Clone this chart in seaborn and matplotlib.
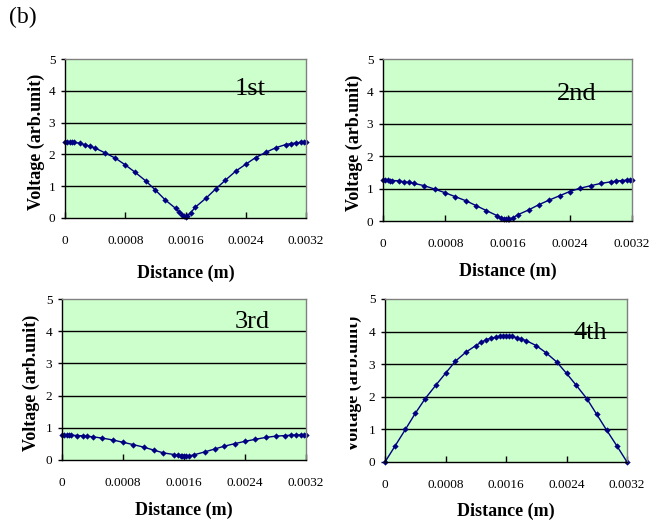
import matplotlib
matplotlib.use("Agg")
import matplotlib.pyplot as plt
import seaborn as sns
from matplotlib.transforms import Bbox, TransformedBbox

# distance samples (m) shared by the 1st-3rd harmonics
dist_13 = [0, 0.00003, 0.00006, 0.00009, 0.00012, 0.0002, 0.00027, 0.00033, 0.0004,
           0.00053, 0.00067, 0.0008, 0.00093, 0.00107, 0.0012, 0.00133, 0.00147,
           0.00152, 0.00156, 0.00158, 0.0016, 0.00162, 0.00167, 0.00173, 0.00187,
           0.002, 0.00213, 0.00227, 0.0024, 0.00253, 0.00267, 0.0028, 0.00293,
           0.003, 0.00307, 0.00313, 0.00317, 0.0032]
volt_1st = [2.40, 2.40, 2.39, 2.39, 2.38, 2.35, 2.30, 2.26, 2.20,
            2.05, 1.88, 1.67, 1.44, 1.17, 0.88, 0.57, 0.30,
            0.18, 0.10, 0.05, 0.02, 0.06, 0.17, 0.34, 0.62,
            0.91, 1.19, 1.48, 1.69, 1.90, 2.07, 2.21, 2.31,
            2.34, 2.36, 2.38, 2.39, 2.40]
volt_2nd = [1.26, 1.26, 1.26, 1.25, 1.25, 1.24, 1.21, 1.19, 1.16,
            1.09, 0.98, 0.87, 0.75, 0.62, 0.47, 0.32, 0.16,
            0.09, 0.06, 0.05, 0.05, 0.06, 0.10, 0.19, 0.34,
            0.50, 0.64, 0.78, 0.91, 1.01, 1.09, 1.16, 1.21,
            1.23, 1.25, 1.26, 1.26, 1.27]
volt_3rd = [0.78, 0.78, 0.78, 0.78, 0.77, 0.76, 0.75, 0.74, 0.72,
            0.68, 0.62, 0.55, 0.48, 0.40, 0.31, 0.22, 0.17,
            0.14, 0.13, 0.12, 0.12, 0.12, 0.13, 0.16, 0.25,
            0.34, 0.43, 0.51, 0.58, 0.64, 0.70, 0.74, 0.76,
            0.77, 0.78, 0.78, 0.78, 0.78]

dist_4 = [0, 0.00013, 0.00027, 0.0004, 0.00053, 0.00067, 0.0008, 0.00093, 0.00107,
          0.0012, 0.00127, 0.00133, 0.0014, 0.00147, 0.00152, 0.00156, 0.0016,
          0.00164, 0.00168, 0.00174, 0.0018, 0.00187, 0.002, 0.00213, 0.00227,
          0.0024, 0.00253, 0.00267, 0.0028, 0.00293, 0.00307, 0.0032]
volt_4th = [0, 0.48, 1.00, 1.49, 1.94, 2.35, 2.72, 3.09, 3.37,
            3.57, 3.67, 3.74, 3.80, 3.83, 3.86, 3.88, 3.88,
            3.87, 3.85, 3.81, 3.77, 3.72, 3.57, 3.35, 3.07,
            2.72, 2.35, 1.94, 1.46, 0.98, 0.48, 0]

x_ticks = [0, 0.0008, 0.0016, 0.0024, 0.0032]
x_tick_labels = ["0", "0.0008", "0.0016", "0.0024", "0.0032"]
y_ticks = [0, 1, 2, 3, 4, 5]
panel_names = ["1st", "2nd", "3rd", "4th"]

sns.set_theme(style="white")
plt.rcParams["font.family"] = ["Liberation Serif", "DejaVu Serif"]
plt.rcParams["text.color"] = "black"
plt.rcParams["axes.labelcolor"] = "black"

W, H = 671, 527
fig = plt.figure(figsize=(W / 100, H / 100), dpi=100)

# (left, top, right, bottom) in pixels, ylabel gap, xlabel gap, text pos
panels = [
    dict(box=(65, 59, 306, 218), x=dist_13, y=volt_1st, ylab=20, xlab=47, txt=(0.00246, 3.88)),
    dict(box=(383, 59, 632, 221), x=dist_13, y=volt_2nd, ylab=20, xlab=42, txt=(0.00249, 3.73)),
    dict(box=(62, 299, 306, 460), x=dist_13, y=volt_3rd, ylab=22, xlab=42, txt=(0.00249, 4.10)),
    dict(box=(385, 299, 627, 462), x=dist_4, y=volt_4th, ylab=23, xlab=41, txt=(0.00271, 3.77)),
]

for i, p in enumerate(panels):
    l, t, r, b = p["box"]
    ax = fig.add_axes([l / W, (H - b) / H, (r - l) / W, (b - t) / H])
    ax.set_facecolor("#ccffcc")
    sns.lineplot(x=p["x"], y=p["y"], ax=ax, color="#000080", linewidth=1,
                 marker="D", markersize=3.2, markeredgewidth=0, clip_on=False)
    ax.set_xlim(0, 0.0032)
    ax.set_ylim(0, 5)
    ax.set_xticks(x_ticks)
    ax.set_xticklabels(x_tick_labels)
    ax.set_yticks(y_ticks)
    for yy in [1, 2, 3, 4]:
        ax.axhline(yy, color="black", linewidth=1, zorder=1)
    for s in ["left", "bottom"]:
        ax.spines[s].set_color("black")
        ax.spines[s].set_linewidth(1)
    for s in ["top", "right"]:
        ax.spines[s].set_color("#808080")
        ax.spines[s].set_linewidth(1)
    ax.tick_params(axis="x", direction="in", length=4, width=1, pad=12,
                   labelsize=9.5, colors="black", bottom=True)
    ax.tick_params(axis="y", direction="out", length=3, width=1, pad=4,
                   labelsize=9.5, colors="black", left=True)
    ax.set_xlabel("Distance (m)", fontsize=13, fontweight="bold")
    ax.set_ylabel("Voltage (arb.unit)", fontsize=13, fontweight="bold")
    ax.xaxis.set_label_coords(0.5, -p["xlab"] / (b - t))
    ax.yaxis.set_label_coords(-p["ylab"] / (r - l), 0.48)
    ax.text(p["txt"][0], p["txt"][1], panel_names[i], fontsize=19,
            ha="center", va="baseline", zorder=5)
    if i == 3:
        # the left half of this label is cut off in the original
        lbl = ax.yaxis.label
        lbl.set_clip_on(True)
        lbl.set_clip_box(TransformedBbox(Bbox([[350 / W, 0], [1, 1]]), fig.transFigure))

fig.text(23 / W, 1 - 17 / H, "(b)", fontsize=17, ha="center", va="center")

fig.savefig("out.png", dpi=100)
